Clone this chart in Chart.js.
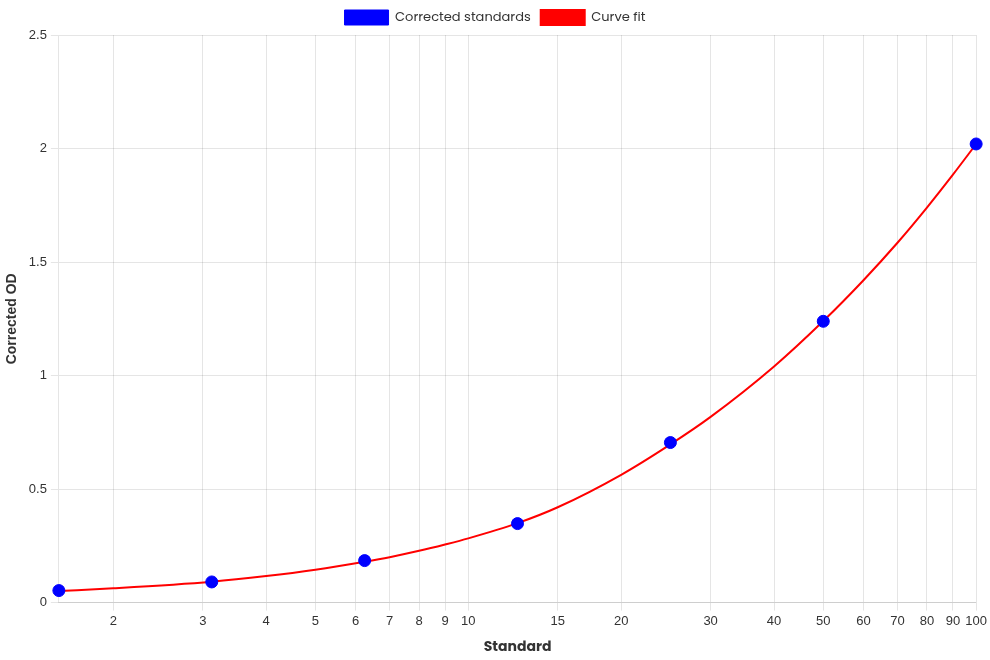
<!DOCTYPE html>
<html>
<head>
<meta charset="utf-8">
<script src="https://cdn.jsdelivr.net/npm/chart.js@4"></script>
<style>
  html, body { margin: 0; padding: 0; background: #fff; }
  #wrap { width: 990px; height: 660px; }
</style>
</head>
<body>
<div id="wrap"><canvas id="stdChart"></canvas></div>
<script>
// standards (x) and their corrected OD
const standards = [1.5625, 3.125, 6.25, 12.5, 25, 50, 100];
const correctedOD = [0.053, 0.091, 0.185, 0.348, 0.705, 1.239, 2.02];

// curve fit
const fitX = [1.5625, 2, 3.125, 4, 5, 6.25, 7, 8, 9, 10, 12.5, 15, 20, 25, 30, 40, 50, 60, 70, 80, 90, 100];
const fitY = [0.051, 0.063, 0.092, 0.117, 0.145, 0.180, 0.200, 0.228, 0.256, 0.283, 0.350, 0.420, 0.563, 0.697, 0.818, 1.04, 1.24, 1.42, 1.585, 1.74, 1.885, 2.02];

const xTicks = [2, 3, 4, 5, 6, 7, 8, 9, 10, 15, 20, 30, 40, 50, 60, 70, 80, 90, 100];
const yTicks = [0, 0.5, 1, 1.5, 2, 2.5];

const titleFont = "Poppins, 'Open Sans', sans-serif";
const tickFont = "'Liberation Sans', Arial, sans-serif";

const ctx = document.getElementById('stdChart').getContext('2d');
const chart = new Chart(ctx, {
  type: 'scatter',
  data: {
    datasets: [{
      label: 'Corrected standards',
      data: standards.map((x, i) => ({ x: x, y: correctedOD[i] })),
      backgroundColor: '#0000ff',
      borderColor: '#0000ff',
      pointRadius: 6,
      pointHoverRadius: 6,
      clip: false,
      order: 0
    }, {
      label: 'Curve fit',
      type: 'line',
      data: fitX.map((x, i) => ({ x: x, y: fitY[i] })),
      borderColor: '#ff0000',
      backgroundColor: '#ff0000',
      borderWidth: 2,
      pointRadius: 0,
      cubicInterpolationMode: 'monotone',
      fill: false,
      order: 1
    }]
  },
  options: {
    responsive: true,
    maintainAspectRatio: false,
    animation: false,
    plugins: {
      legend: {
        position: 'top',
        labels: {
          boxWidth: 44,
          boxHeight: 15,
          color: '#333',
          font: { family: titleFont, size: 13 }
        }
      },
      tooltip: { enabled: false }
    },
    scales: {
      x: {
        type: 'logarithmic',
        min: 1.5625,
        max: 100,
        afterBuildTicks: axis => {
          axis.ticks = xTicks.map(v => ({ value: v }));
        },
        ticks: {
          autoSkip: false,
          maxRotation: 0,
          color: '#333',
          font: { family: tickFont, size: 13 },
          callback: v => String(v)
        },
        title: {
          display: true,
          text: 'Standard',
          color: '#333',
          padding: { top: 7, bottom: 4 },
          font: { family: titleFont, size: 14, weight: 'bold' }
        }
      },
      y: {
        min: 0,
        max: 2.5,
        afterBuildTicks: axis => {
          axis.ticks = yTicks.map(v => ({ value: v }));
        },
        ticks: {
          color: '#333',
          padding: 4,
          font: { family: tickFont, size: 13 },
          callback: v => String(v)
        },
        title: {
          display: true,
          text: 'Corrected OD',
          color: '#333',
          font: { family: tickFont, size: 14, weight: 'bold' }
        }
      }
    }
  }
});
</script>
</body>
</html>
